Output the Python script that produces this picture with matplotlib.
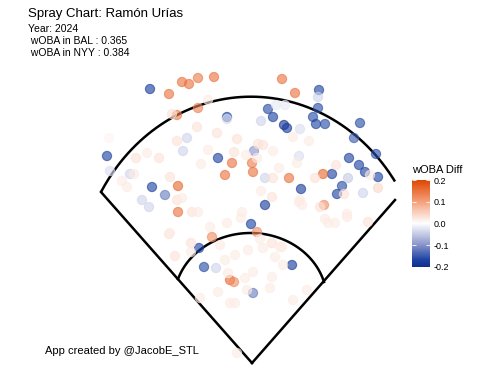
import numpy as np
import matplotlib
matplotlib.use("Agg")
import matplotlib.pyplot as plt
from matplotlib.colors import LinearSegmentedColormap, Normalize

# batted balls, hit coordinates (hc_x to the right, hc_y downward) and wOBA diff
hc_x = [150, 107, 152, 227, 268, 273, 284, 287, 218, 319, 318, 313, 316, 325, 360,
        354, 376, 349, 359, 365, 378, 332, 301, 342, 337, 265, 251, 199, 204, 292,
        253, 254, 165,
        261, 276, 285, 318, 187, 183, 110, 130, 142, 149, 265, 300, 299, 348, 363,
        216, 227,
        169, 182, 189, 198, 214, 282, 295, 177, 198, 232, 225, 252, 253, 289, 323,
        324, 178, 178, 257, 212, 230, 234,
        172, 197, 208, 109, 177, 136, 147, 159, 134, 122, 127, 170, 177, 182, 192,
        201, 217, 237, 208, 234, 258, 263, 273, 246, 257, 279, 273, 293, 309, 297,
        336, 370, 315, 344, 378, 320, 299, 347, 261, 272, 242, 198, 169, 191, 191,
        175, 241, 227, 210, 260, 263, 272, 280, 275, 248, 235, 225, 220, 228, 245,
        253, 270, 218, 230, 235, 293, 237, 300, 302, 325, 335, 328, 347, 368, 282,
        283, 272, 307, 200, 247, 170]
hc_y = [89, 156, 187, 117, 109, 117, 125, 128, 158, 90, 108, 117, 124, 124, 123,
        138, 154, 158, 165, 172, 177, 174, 189, 186, 194, 205, 224, 248, 267, 265,
        293, 151, 195,
        121, 105, 105, 97, 138, 151, 171, 174, 200, 207, 178, 129, 156, 178, 193,
        268, 119,
        94, 82, 84, 78, 77, 79, 93, 115, 108, 163, 175, 163, 172, 178, 174,
        205, 186, 212, 232, 237, 280, 282,
        114, 127, 100, 138, 141, 158, 153, 158, 174, 181, 187, 177, 200, 198, 212,
        164, 133, 139, 150, 152, 144, 145, 151, 155, 158, 168, 178, 137, 141, 163,
        165, 175, 178, 194, 188, 207, 202, 214, 191, 197, 212, 212, 234, 243, 252,
        256, 218, 223, 227, 239, 248, 243, 247, 257, 250, 255, 260, 245, 273, 278,
        272, 288, 292, 303, 303, 300, 353, 200, 205, 219, 223, 223, 217, 222, 247,
        265, 277, 290, 298, 290, 233]
woba_diff = [-0.18, -0.17, -0.17, -0.17, -0.16, -0.17, -0.22, -0.18, -0.17, -0.17,
             -0.16, -0.16, -0.17, -0.16, -0.16,
             -0.15, -0.16, -0.17, -0.17, -0.17, -0.17, -0.17, -0.18, -0.16, -0.17,
             -0.18, -0.17, -0.17, -0.16, -0.18,
             -0.12, -0.10, -0.12,
             -0.04, -0.02, -0.02, -0.04, -0.04, -0.04, -0.03, -0.04, -0.04, -0.04,
             -0.04, -0.03, -0.03, -0.05, -0.04,
             -0.04, -0.03,
             0.15, 0.15, 0.15, 0.14, 0.15, 0.15, 0.15, 0.14, 0.13, 0.15, 0.15,
             0.14, 0.15, 0.15, 0.16,
             0.12, 0.16, 0.15, 0.12, 0.12, 0.16, 0.12,
             0.03, 0.03, 0.02, 0.01, 0.03, 0.03, 0.02, 0.03, 0.02, 0.02, 0.02,
             0.03, 0.03, 0.02, 0.03,
             0.02, 0.03, 0.03, 0.02, 0.03, 0.03, 0.03, 0.02, 0.02, 0.02, 0.02,
             0.03, 0.02, 0.02, 0.02,
             0.03, 0.02, 0.03, 0.03, 0.04, 0.03, 0.02, 0.02, 0.02, 0.03, 0.02,
             0.02, 0.03, 0.03, 0.02,
             0.03, 0.02, 0.02, 0.02, 0.02, 0.02, 0.03, 0.02, 0.02, 0.02, 0.02,
             0.02, 0.02, 0.02, 0.02,
             0.02, 0.02, 0.02, 0.02, 0.02, 0.02, 0.02, 0.02, 0.02, 0.02, 0.02,
             0.02, 0.02, 0.03, 0.02,
             0.02, 0.02, 0.02, 0.02, 0.02, 0.02]

player = "Ramón Urías"
year = 2024
woba_bal = 0.365
woba_nyy = 0.384
diff_ticks = [-0.2, -0.1, 0.0, 0.1, 0.2]

# navy -> white -> orange
cmap = LinearSegmentedColormap.from_list(
    "woba", [(0.0, "#102f90"), (0.08, "#1c43a2"), (0.25, "#8894ca"),
             (0.5, "#ffffff"), (0.75, "#f4a07c"), (1.0, "#df4601")])
norm = Normalize(vmin=-0.2, vmax=0.2)

fig = plt.figure(figsize=(4.92, 3.88), dpi=100)
ax = fig.add_axes([0, 0, 1, 1])
ax.set_xlim(0, 492)
ax.set_ylim(388, 0)
ax.axis("off")

# field outline
home = (252, 363)
lf_pole = (101, 192)
rf_end = (395, 200)
t = np.linspace(np.arccos((lf_pole[0] - 251) / 174), np.arccos((395 - 251) / 174), 200)
of_x = 251 + 174 * np.cos(t)
of_y = 290 - 193.3 * np.sin(t)
ax.plot([home[0], lf_pole[0]], [home[1], lf_pole[1]], color="black", lw=1.8)
ax.plot([home[0], rf_end[0]], [home[1], rf_end[1]], color="black", lw=1.8)
ax.plot(of_x, of_y, color="black", lw=1.8, solid_capstyle="butt")
t = np.linspace(np.arccos((178 - 250.5) / 76.3), np.arccos((324 - 250.5) / 76.3), 120)
ax.plot(250.5 + 76.3 * np.cos(t), 300 - 67 * np.sin(t), color="black", lw=1.8)

cols = cmap(norm(np.clip(woba_diff, -0.2, 0.2)))
cols[:, 3] = 0.62
ax.scatter(hc_x, hc_y, s=44, c=cols, edgecolors=cols, linewidths=0.8, zorder=3)

font = "Liberation Sans"
fig.text(28 / 492, 1 - 16.5 / 388, f"Spray Chart: {player}", fontsize=9.5,
         family=font, va="baseline")
fig.text(28 / 492, 1 - 32.5 / 388, f"Year: {year}", fontsize=7.5, family=font, va="baseline")
fig.text(28 / 492, 1 - 44.5 / 388, f" wOBA in BAL : {woba_bal}", fontsize=7.5,
         family=font, va="baseline")
fig.text(28 / 492, 1 - 56.5 / 388, f" wOBA in NYY : {woba_nyy}", fontsize=7.5,
         family=font, va="baseline")
fig.text(45 / 492, 1 - 354 / 388, "App created by @JacobE_STL", fontsize=8,
         family=font, va="baseline")

# colour bar legend
cax = fig.add_axes([412 / 492, 1 - 266.7 / 388, 17.5 / 492, 86.7 / 388])
sm = plt.cm.ScalarMappable(norm=norm, cmap=cmap)
cb = fig.colorbar(sm, cax=cax, ticks=diff_ticks)
cb.outline.set_visible(False)
cb.ax.set_yticklabels([f"{v:.1f}" for v in diff_ticks], family=font, fontsize=6.5)
cb.ax.tick_params(left=True, right=True, direction="in", length=3, width=0.6,
                  color="white", pad=3)
fig.text(412 / 492, 1 - 173.3 / 388, "wOBA Diff", fontsize=8, family=font, va="baseline")

fig.savefig("out.png", dpi=100)
